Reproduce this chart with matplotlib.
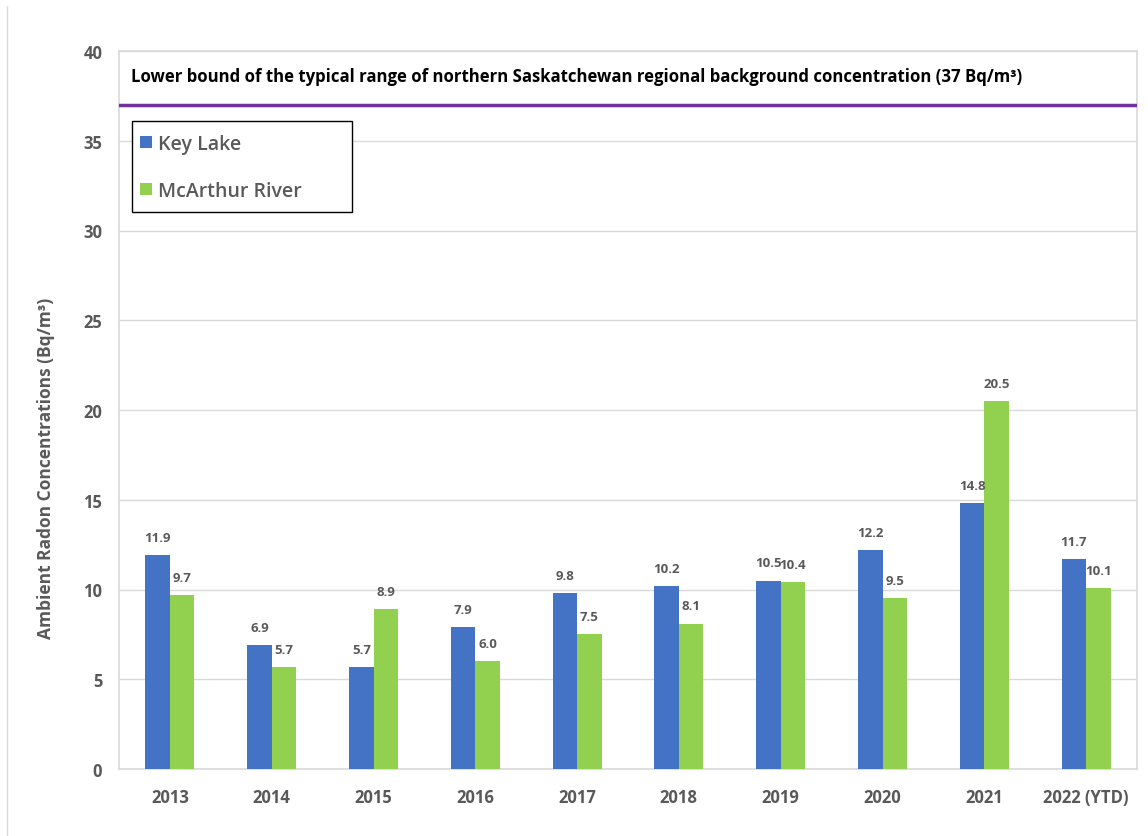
import matplotlib
matplotlib.use("Agg")
import matplotlib.pyplot as plt
from matplotlib.lines import Line2D
from matplotlib.patches import Rectangle
import numpy as np

years = ['2013', '2014', '2015', '2016', '2017', '2018', '2019', '2020', '2021', '2022 (YTD)']
key_lake = [11.9, 6.9, 5.7, 7.9, 9.8, 10.2, 10.5, 12.2, 14.8, 11.7]
mcarthur = [9.7, 5.7, 8.9, 6.0, 7.5, 8.1, 10.4, 9.5, 20.5, 10.1]
background = 37

BLUE = '#4472C4'
GREEN = '#92D050'
PURPLE = '#7030A0'
GREY = '#595959'
GRID = '#D9D9D9'

plt.rcParams['font.family'] = ['Open Sans', 'DejaVu Sans']

W, H = 1148, 837
L, R, B, T = 119, 1137, 770, 52  # plot area in pixels
fig = plt.figure(figsize=(W / 100, H / 100), dpi=100)
ax = fig.add_axes([L / W, 1 - B / H, (R - L) / W, (B - T) / H])


def ax_xy(px, py):
    return (px - L) / (R - L), (B - py) / (B - T)


x = np.arange(len(years))
w = 0.24
b1 = ax.bar(x - w / 2, key_lake, w, color=BLUE, label='Key Lake', zorder=3)
b2 = ax.bar(x + w / 2, mcarthur, w, color=GREEN, label='McArthur River', zorder=3)
for bars in (b1, b2):
    ax.bar_label(bars, fmt='%.1f', padding=8, fontsize=9.5, fontweight='bold', color=GREY)

ax.axhline(background, color=PURPLE, lw=2.5, zorder=4)
ax.text(0.012, 38.6, 'Lower bound of the typical range of northern Saskatchewan regional '
        'background concentration (37 Bq/m³)',
        transform=ax.get_yaxis_transform(), fontsize=12.1, fontweight='bold',
        color='black', va='center', ha='left')

ax.set_xlim(-0.5, 9.5)
ax.set_ylim(0, 40)
ax.set_yticks(range(0, 41, 5))
ax.set_xticks(x)
ax.set_xticklabels(years)
ax.tick_params(length=0, labelsize=12, labelcolor=GREY)
ax.tick_params(axis='x', pad=14)
ax.tick_params(axis='y', pad=12)
for lab in ax.get_xticklabels() + ax.get_yticklabels():
    lab.set_fontweight('bold')
ax.grid(axis='y', color=GRID, lw=1, zorder=0)
for s in ax.spines.values():
    s.set_color(GRID)
    s.set_linewidth(1.2)

ax.set_ylabel('Ambient Radon Concentrations (Bq/m³)', fontsize=12.5,
              fontweight='bold', color=GREY)
ax.yaxis.set_label_coords(*ax_xy(55, 468))

# legend box drawn separately so it can be wider than its contents
x0, y0 = ax_xy(132, 213)
x1, y1 = ax_xy(352, 122)
ax.add_patch(Rectangle((x0, y0), x1 - x0, y1 - y0, transform=ax.transAxes,
                       facecolor='white', edgecolor='black', lw=1.0, zorder=5))
leg = ax.legend(loc='upper left', bbox_to_anchor=ax_xy(134, 129), fontsize=14,
                frameon=False, handlelength=0.6, handleheight=0.6,
                handletextpad=0.35, labelspacing=1.4, borderpad=0.3,
                borderaxespad=0)
leg.set_zorder(6)
for t in leg.get_texts():
    t.set_color(GREY)
    t.set_fontweight('semibold')

fig.add_artist(Line2D([7 / W, 7 / W], [0, 1 - 7 / H], color=GRID, lw=1))

fig.savefig('out.png', dpi=100)
